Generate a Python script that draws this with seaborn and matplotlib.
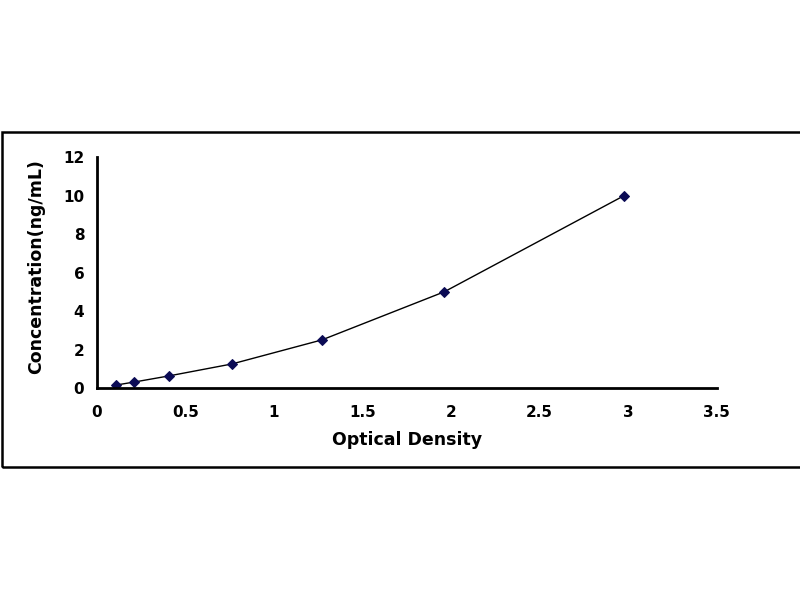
import pandas as pd
import matplotlib
matplotlib.use('Agg')
import matplotlib.pyplot as plt
import seaborn as sns
from matplotlib.patches import Rectangle

# Standard curve values
optical_density = [0.11, 0.212, 0.405, 0.763, 1.271, 1.962, 2.978]
concentration = [0.156, 0.312, 0.625, 1.25, 2.5, 5, 10]
x_ticks = [0, 0.5, 1, 1.5, 2, 2.5, 3, 3.5]
y_ticks = [0, 2, 4, 6, 8, 10, 12]

df = pd.DataFrame({'Optical Density': optical_density,
                   'Concentration(ng/mL)': concentration})

sns.set_style('white')
plt.rcParams['font.family'] = ['DejaVu Sans']
plt.rcParams['font.weight'] = 'bold'
plt.rcParams['text.color'] = 'black'
plt.rcParams['axes.labelcolor'] = 'black'
plt.rcParams['xtick.color'] = 'black'
plt.rcParams['ytick.color'] = 'black'

fig = plt.figure(figsize=(8, 6), dpi=100)
ax = fig.add_axes([0.121, 0.3533, 0.775, 0.385])

sns.lineplot(data=df, x='Optical Density', y='Concentration(ng/mL)', ax=ax,
             color='black', linewidth=1.0, marker='D', markersize=5,
             markerfacecolor='#0b0b55', markeredgecolor='#0b0b55')

ax.set_xlim(0, 3.5)
ax.set_ylim(0, 12)
ax.set_xticks(x_ticks)
ax.set_xticklabels([f'{t:g}' for t in x_ticks])
ax.set_yticks(y_ticks)
ax.set_yticklabels([str(t) for t in y_ticks])

sns.despine(ax=ax)
for s in ['left', 'bottom']:
    ax.spines[s].set_linewidth(2)
    ax.spines[s].set_color('black')
ax.tick_params(axis='x', direction='in', length=6, width=2, pad=12, labelsize=11)
ax.tick_params(axis='y', direction='in', length=6, width=2, pad=9, labelsize=11)
for lbl in ax.get_xticklabels() + ax.get_yticklabels():
    lbl.set_fontweight('bold')

ax.set_xlabel('Optical Density', fontsize=12.5, fontweight='bold', labelpad=8)
ax.set_ylabel('Concentration(ng/mL)', fontsize=12.5, fontweight='bold')
ax.yaxis.set_label_coords(-0.083, 0.524)

# outer chart frame
fig.patches.append(Rectangle((0.003, 0.2217), 1.2, 0.5588, transform=fig.transFigure,
                             fill=False, edgecolor='black', linewidth=1.8))

plt.savefig('out.png', dpi=100)
plt.close()
